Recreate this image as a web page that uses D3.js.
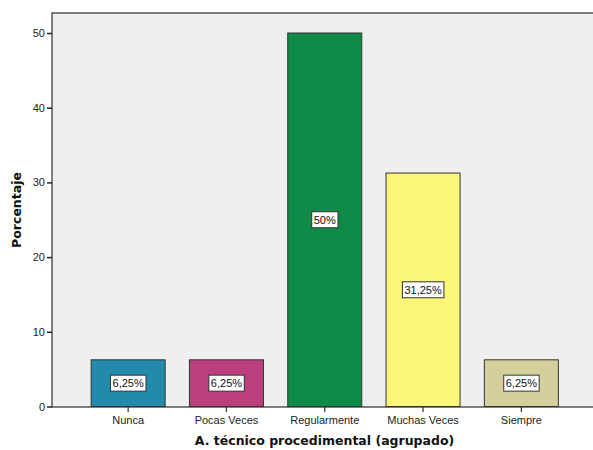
<!DOCTYPE html>
<html>
<head>
<meta charset="utf-8">
<script src="https://cdn.jsdelivr.net/npm/d3@7"></script>
<style>
  html, body { margin: 0; padding: 0; background: #ffffff; }
  svg { display: block; }
</style>
</head>
<body>
<svg id="chart" width="593" height="450"></svg>
<script>
// Category labels, percentage values, value labels and bar fills
const categories = ["Nunca", "Pocas Veces", "Regularmente", "Muchas Veces", "Siempre"];
const values = [6.25, 6.25, 50, 31.25, 6.25];
const valueLabels = ["6,25%", "6,25%", "50%", "31,25%", "6,25%"];
const colors = ["#228aab", "#bb3f7d", "#108b47", "#fbf678", "#d5d09b"];
const yTicks = [0, 10, 20, 30, 40, 50];

const svg = d3.select("#chart");
const frame = { left: 52, top: 13, right: 597, bottom: 407 };

// Plot background frame
svg.append("rect")
  .attr("x", frame.left).attr("y", frame.top)
  .attr("width", frame.right - frame.left).attr("height", frame.bottom - frame.top)
  .attr("fill", "#efefef").attr("stroke", "#555").attr("stroke-width", 1.5);

const x = d3.scaleBand()
  .domain(categories)
  .range([79, 570.5])
  .paddingInner(0.247)
  .paddingOuter(0.1235);

const y = d3.scaleLinear()
  .domain([0, 50])
  .range([406.5, 33]);

// Bars
svg.append("g").selectAll("rect")
  .data(categories)
  .join("rect")
  .attr("x", d => x(d))
  .attr("y", (d, i) => y(values[i]))
  .attr("width", x.bandwidth())
  .attr("height", (d, i) => y(0) - y(values[i]))
  .attr("fill", (d, i) => colors[i])
  .attr("stroke", "#333")
  .attr("stroke-width", 1);

// Value labels in white boxes at mid-height
const labels = svg.append("g").selectAll("g")
  .data(categories)
  .join("g")
  .attr("transform", (d, i) => `translate(${x(d) + x.bandwidth() / 2},${y(values[i] / 2)})`);

labels.append("text")
  .attr("text-anchor", "middle")
  .attr("dy", "0.35em")
  .attr("font-family", "Liberation Sans, Arial, sans-serif")
  .attr("font-size", 11)
  .attr("fill", "#111")
  .text((d, i) => valueLabels[i]);

labels.each(function () {
  const g = d3.select(this);
  const bb = g.select("text").node().getBBox();
  g.insert("rect", "text")
    .attr("x", bb.x - 2).attr("y", -8)
    .attr("width", bb.width + 4).attr("height", 16)
    .attr("fill", "#ffffff").attr("stroke", "#333").attr("stroke-width", 1);
});

// Y axis
const yAxis = svg.append("g")
  .attr("transform", `translate(${frame.left},0)`)
  .call(d3.axisLeft(y).tickValues(yTicks).tickSize(5).tickPadding(2).tickFormat(d3.format("d")));
yAxis.select(".domain").remove();
yAxis.selectAll(".tick line").attr("stroke", "#222").attr("stroke-width", 1.5);
yAxis.selectAll(".tick text")
  .attr("font-family", "Liberation Sans, Arial, sans-serif")
  .attr("font-size", 11).attr("fill", "#222");

// X axis
const xAxis = svg.append("g")
  .attr("transform", `translate(0,${frame.bottom})`)
  .call(d3.axisBottom(x).tickSize(5).tickPadding(4));
xAxis.select(".domain").remove();
xAxis.selectAll(".tick line").attr("stroke", "#333").attr("stroke-width", 1.2);
xAxis.selectAll(".tick text")
  .attr("font-family", "Liberation Sans, Arial, sans-serif")
  .attr("font-size", 11).attr("fill", "#222");

// Axis titles
svg.append("text")
  .attr("x", (frame.left + frame.right) / 2)
  .attr("y", 445)
  .attr("text-anchor", "middle")
  .attr("font-family", "DejaVu Sans, sans-serif")
  .attr("font-weight", "bold")
  .attr("font-size", 12.5)
  .attr("fill", "#111")
  .text("A. técnico procedimental (agrupado)");

svg.append("text")
  .attr("transform", `translate(21,${(frame.top + frame.bottom) / 2}) rotate(-90)`)
  .attr("text-anchor", "middle")
  .attr("font-family", "DejaVu Sans, sans-serif")
  .attr("font-weight", "bold")
  .attr("font-size", 12.5)
  .attr("fill", "#111")
  .text("Porcentaje");
</script>
</body>
</html>
